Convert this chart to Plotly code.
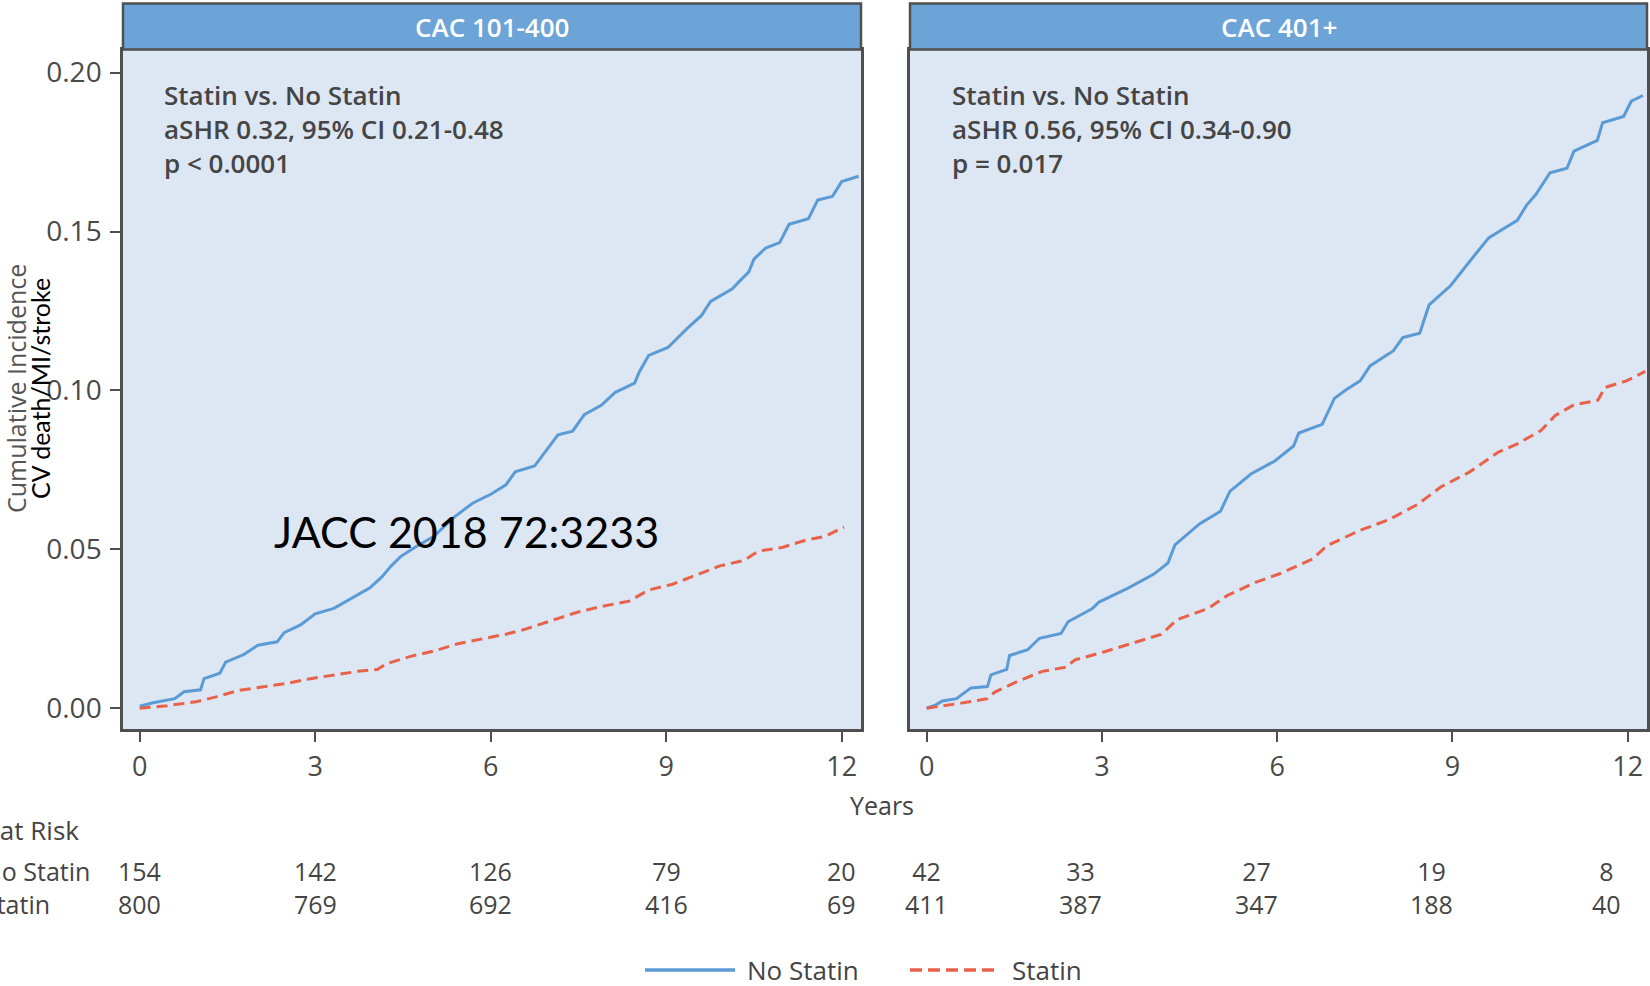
import plotly.graph_objects as go

# ---------------- data ----------------
panel_titles = ["CAC 101-400", "CAC 401+"]
stats_101 = ["Statin vs. No Statin", "aSHR 0.32, 95% CI 0.21-0.48", "p < 0.0001"]
stats_401 = ["Statin vs. No Statin", "aSHR 0.56, 95% CI 0.34-0.90", "p = 0.017"]

year_ticks = [0, 3, 6, 9, 12]
ci_ticks = [0.00, 0.05, 0.10, 0.15, 0.20]

# CAC 101-400, No Statin
t_ns_101 = [0, 0.23, 0.6, 0.76, 1.04, 1.1, 1.37, 1.47, 1.78, 2.02, 2.35, 2.47, 2.75, 3.0,
            3.32, 3.65, 3.93, 4.14, 4.3, 4.46, 4.7, 5.03, 5.36, 5.69, 6.01, 6.26, 6.42,
            6.75, 6.99, 7.15, 7.4, 7.6, 7.89, 8.13, 8.46, 8.54, 8.7, 9.03, 9.36, 9.6,
            9.76, 10.13, 10.25, 10.41, 10.5, 10.7, 10.94, 11.1, 11.43, 11.59, 11.84, 12.0, 12.29]
ci_ns_101 = [0.0006, 0.0017, 0.003, 0.0052, 0.0058, 0.0093, 0.011, 0.0145, 0.0169, 0.0198,
             0.0209, 0.0238, 0.0262, 0.0297, 0.0314, 0.0349, 0.0378, 0.0413, 0.0448, 0.0477,
             0.0506, 0.0541, 0.0599, 0.0645, 0.0674, 0.0703, 0.0744, 0.0762, 0.082, 0.086,
             0.0872, 0.0924, 0.0953, 0.0994, 0.1023, 0.1058, 0.111, 0.1135, 0.1195, 0.1235,
             0.128, 0.132, 0.1343, 0.1372, 0.1413, 0.1448, 0.1465, 0.1523, 0.154, 0.1599,
             0.161, 0.1657, 0.1674]

# CAC 101-400, Statin
t_st_101 = [0, 0.47, 0.96, 1.29, 1.69, 2.1, 2.51, 2.92, 3.32, 3.73, 4.06, 4.22, 4.63, 5.03,
            5.44, 5.85, 6.26, 6.58, 6.99, 7.48, 7.89, 8.37, 8.7, 9.11, 9.43, 9.92, 10.33,
            10.57, 10.98, 11.39, 11.72, 12.04]
ci_st_101 = [0.0, 0.0008, 0.002, 0.0035, 0.0056, 0.0066, 0.0078, 0.0093, 0.0105, 0.0116,
             0.0122, 0.014, 0.0163, 0.018, 0.0203, 0.0217, 0.0233, 0.0248, 0.0273, 0.0302,
             0.032, 0.0337, 0.0372, 0.039, 0.0413, 0.0448, 0.0465, 0.0494, 0.0506, 0.0529,
             0.0541, 0.057]

# CAC 401+, No Statin
t_ns_401 = [0, 0.15, 0.27, 0.51, 0.76, 1.04, 1.1, 1.37, 1.42, 1.73, 1.93, 2.3, 2.42, 2.83,
            2.95, 3.44, 3.89, 4.13, 4.25, 4.67, 5.03, 5.19, 5.55, 5.96, 6.28, 6.37, 6.77,
            6.98, 7.18, 7.42, 7.59, 7.99, 8.15, 8.44, 8.6, 8.97, 9.29, 9.62, 9.86, 10.11,
            10.27, 10.43, 10.67, 10.96, 11.08, 11.48, 11.57, 11.93, 12.06, 12.26]
ci_ns_401 = [0.0, 0.001, 0.0023, 0.003, 0.0064, 0.0068, 0.0105, 0.0122, 0.0166, 0.0184,
             0.022, 0.0235, 0.0272, 0.0313, 0.0334, 0.0377, 0.0422, 0.0457, 0.0514, 0.058,
             0.062, 0.0682, 0.0737, 0.0778, 0.0825, 0.0866, 0.0893, 0.0975, 0.1002, 0.103,
             0.1077, 0.1125, 0.1166, 0.118, 0.1269, 0.133, 0.1405, 0.148, 0.1507, 0.1535,
             0.1583, 0.1617, 0.1685, 0.1699, 0.1753, 0.1787, 0.1842, 0.1862, 0.191, 0.1928]

# CAC 401+, Statin
t_st_401 = [0, 0.27, 0.59, 1.04, 1.16, 1.49, 1.98, 2.38, 2.54, 3.03, 3.52, 4.01, 4.29, 4.82,
            5.15, 5.63, 6.04, 6.61, 6.85, 7.42, 7.91, 8.4, 8.8, 9.29, 9.78, 10.11, 10.51,
            10.76, 11.08, 11.49, 11.61, 11.98, 12.3]
ci_st_401 = [0.0, 0.0007, 0.0016, 0.003, 0.005, 0.0079, 0.0116, 0.0129, 0.0152, 0.0177,
             0.0204, 0.0232, 0.0279, 0.0314, 0.0355, 0.0396, 0.0423, 0.047, 0.0511, 0.056,
             0.0593, 0.0641, 0.0696, 0.0743, 0.0805, 0.0832, 0.0873, 0.0921, 0.0955, 0.0969,
             0.1009, 0.103, 0.106]

# numbers at risk
risk_ns_101 = [154, 142, 126, 79, 20]
risk_st_101 = [800, 769, 692, 416, 69]
risk_ns_401 = [42, 33, 27, 19, 8]
risk_st_401 = [411, 387, 347, 188, 40]
risk_labels = ["No Statin", "Statin"]

# ---------------- styling ----------------
W, H = 1650, 986
BLUE = "#5b9bd5"
RED = "#e8624a"
FRAME = "#4f4f4f"
PANEL_BG = "#dde6f3"
STRIP = "#6ca4d7"
TXT = "#4a4a4a"
FONT = "Open Sans"


def px(x):
    return x / W


def py(y):
    return 1 - y / H


X_RANGE = [-0.285, 12.33]
Y_RANGE = [-0.00654, 0.20727]
Y_DOM = [py(729), py(49.5)]

fig = go.Figure()

fig.add_trace(go.Scatter(x=t_ns_101, y=ci_ns_101, mode="lines", name="No Statin",
                         line=dict(color=BLUE, width=3), xaxis="x", yaxis="y", showlegend=False))
fig.add_trace(go.Scatter(x=t_st_101, y=ci_st_101, mode="lines", name="Statin",
                         line=dict(color=RED, width=3, dash="11px,6px"), xaxis="x", yaxis="y",
                         showlegend=False))
fig.add_trace(go.Scatter(x=t_ns_401, y=ci_ns_401, mode="lines", name="No Statin",
                         line=dict(color=BLUE, width=3), xaxis="x2", yaxis="y2", showlegend=False))
fig.add_trace(go.Scatter(x=t_st_401, y=ci_st_401, mode="lines", name="Statin",
                         line=dict(color=RED, width=3, dash="11px,6px"), xaxis="x2", yaxis="y2",
                         showlegend=False))

axis_common = dict(showline=True, linecolor=FRAME, linewidth=2.5, mirror=True,
                   showgrid=False, zeroline=False, ticks="outside", ticklen=10, tickwidth=2,
                   tickcolor=FRAME)

xaxis_common = dict(axis_common, range=X_RANGE, tickvals=year_ticks,
                    ticktext=[str(v) for v in year_ticks],
                    tickfont=dict(family=FONT, size=27, color=TXT), ticklabelstandoff=2)

fig.update_layout(
    width=W, height=H,
    margin=dict(l=0, r=0, t=0, b=0),
    paper_bgcolor="white",
    plot_bgcolor=PANEL_BG,
    showlegend=False,
    xaxis=dict(xaxis_common, domain=[px(123), px(861)], anchor="y"),
    yaxis=dict(axis_common, domain=Y_DOM, range=Y_RANGE, anchor="x", tickvals=ci_ticks,
               tickformat=".2f", tickfont=dict(family=FONT, size=28, color=TXT),
               ticklabelstandoff=3),
    xaxis2=dict(xaxis_common, domain=[px(910), px(1647)], anchor="y2"),
    yaxis2=dict(axis_common, domain=Y_DOM, range=Y_RANGE, anchor="x2", ticks="",
                showticklabels=False),
)

shapes = []
annotations = []

# strips with panel titles
for (x0, x1), title in zip([(123, 861), (910, 1647)], panel_titles):
    shapes.append(dict(type="rect", xref="paper", yref="paper", x0=px(x0), x1=px(x1),
                       y0=py(49.5), y1=py(3.5), fillcolor=STRIP,
                       line=dict(color=FRAME, width=2.5), layer="above"))
    annotations.append(dict(xref="paper", yref="paper", x=px((x0 + x1) / 2), y=py(26.5),
                            text=title, showarrow=False, xanchor="center", yanchor="middle",
                            font=dict(family=FONT, size=26, color="white", weight=600)))

# statistics text in each panel (one block per panel)
for x_left, lines in [(162, stats_101), (950, stats_401)]:
    annotations.append(dict(xref="paper", yref="paper", x=px(x_left), y=py(129),
                            text="<br>".join(lines), showarrow=False, align="left",
                            xanchor="left", yanchor="middle",
                            font=dict(family=FONT, size=26, color="#454545", weight=600)))

# overlay citation
annotations.append(dict(xref="paper", yref="paper", x=px(466), y=py(531),
                        text="JACC 2018 72:3233", showarrow=False,
                        xanchor="center", yanchor="middle",
                        font=dict(family="Lato", size=43, color="black")))

# y axis titles
annotations.append(dict(xref="paper", yref="paper", x=px(16), y=py(389),
                        text="Cumulative Incidence", textangle=-90, showarrow=False,
                        xanchor="center", yanchor="middle",
                        font=dict(family=FONT, size=25, color="#555555")))
annotations.append(dict(xref="paper", yref="paper", x=px(40), y=py(389),
                        text="CV death/MI/stroke", textangle=-90, showarrow=False,
                        xanchor="center", yanchor="middle",
                        font=dict(family="Lato", size=25, color="black")))

# x axis title
annotations.append(dict(xref="paper", yref="paper", x=px(882), y=py(805), text="Years",
                        showarrow=False, xanchor="center", yanchor="middle",
                        font=dict(family=FONT, size=25, color="#444444")))

# numbers at risk table
annotations.append(dict(xref="paper", yref="paper", x=px(81), y=py(830),
                        text="No. at Risk", showarrow=False, xanchor="right",
                        yanchor="middle", font=dict(family=FONT, size=26, color="#444444")))
annotations.append(dict(xref="paper", yref="paper", x=px(-19), y=py(887),
                        text="<br>".join(risk_labels), showarrow=False, xanchor="left",
                        align="left", yanchor="middle",
                        font=dict(family=FONT, size=25, color="#444444")))

for xref, shift, (ns, st) in [("x", 0, (risk_ns_101, risk_st_101)),
                              ("x2", -21, (risk_ns_401, risk_st_401))]:
    for k, t in enumerate(year_ticks):
        annotations.append(dict(xref=xref, yref="paper", x=t, y=py(887),
                                xshift=(shift if k > 0 else 0),
                                text=f"{ns[k]}<br>{st[k]}", showarrow=False,
                                xanchor="center", align="center", yanchor="middle",
                                font=dict(family=FONT, size=25, color="#444444")))

# legend (drawn below the panels)
LEG_Y = 970
shapes.append(dict(type="line", xref="paper", yref="paper", x0=px(645), x1=px(735),
                   y0=py(LEG_Y), y1=py(LEG_Y), line=dict(color=BLUE, width=3.5)))
shapes.append(dict(type="line", xref="paper", yref="paper", x0=px(910), x1=px(997),
                   y0=py(LEG_Y), y1=py(LEG_Y), line=dict(color=RED, width=3.5, dash="12px,6px")))
annotations.append(dict(xref="paper", yref="paper", x=px(745), y=py(LEG_Y), text="No Statin",
                        showarrow=False, xanchor="left", yanchor="middle",
                        font=dict(family=FONT, size=26, color="#444444")))
annotations.append(dict(xref="paper", yref="paper", x=px(1010), y=py(LEG_Y), text="Statin",
                        showarrow=False, xanchor="left", yanchor="middle",
                        font=dict(family=FONT, size=26, color="#444444")))

fig.update_layout(shapes=shapes, annotations=annotations)

fig.write_html("out.html", config={"displayModeBar": False},
               post_script="document.body.style.margin='0';document.body.style.overflow='hidden';")
